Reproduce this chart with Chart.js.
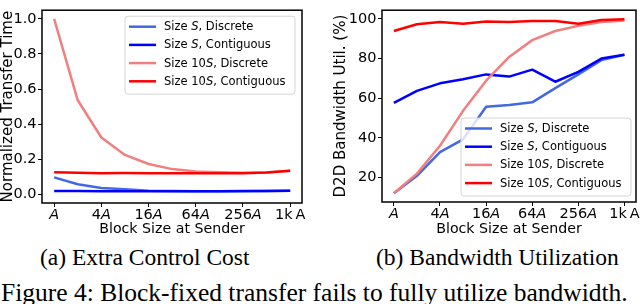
<!DOCTYPE html>
<html>
<head>
<meta charset="utf-8">
<script src="https://cdn.jsdelivr.net/npm/chart.js@4.4.1/dist/chart.umd.min.js"></script>
<style>
  body { margin: 0; background: #fff; width: 640px; height: 304px; position: relative; overflow: hidden; }
  .panel { position: absolute; top: 0; width: 320px; height: 240px; }
  #leftPanel { left: 0; }
  #rightPanel { left: 320px; }
  .cap { position: absolute; font-family: "Liberation Serif", "Times New Roman", serif; color: #000; white-space: nowrap; line-height: 1; }
</style>
</head>
<body>
<div class="panel" id="leftPanel"><canvas id="costChart"></canvas></div>
<div class="panel" id="rightPanel"><canvas id="utilChart"></canvas></div>
<div class="cap" style="left:40px; top:246px; font-size:23.5px;">(a) Extra Control Cost</div>
<div class="cap" style="left:376px; top:246px; font-size:23.5px;">(b) Bandwidth Utilization</div>
<div class="cap" style="left:1px; top:280px; font-size:25.5px;">Figure 4: Block-fixed transfer fails to fully utilize bandwidth.</div>

<script>
// block sizes, in units of A
var blockSizes = [1, 2, 4, 8, 16, 32, 64, 128, 256, 512, 1024];
var xTickValues = [1, 4, 16, 64, 256, 1024];
var xTickPrefix = ["", "4", "16", "64", "256", "1k\u2009"];
var xTickItalicA = [true, true, true, true, true, false];

var costYTicks = [0, 0.2, 0.4, 0.6, 0.8, 1.0];
var utilYTicks = [20, 40, 60, 80, 100];

// [before, italic, after]
var seriesLabels = [
  ["Size ", "S", ", Discrete"],
  ["Size ", "S", ", Contiguous"],
  ["Size 10", "S", ", Discrete"],
  ["Size 10", "S", ", Contiguous"]
];
var seriesColors = ["#4169e1", "#0000ff", "#f08080", "#ff0000"];

// (a) normalized transfer time
var costSDiscrete   = [0.097, 0.058, 0.036, 0.029, 0.021, 0.019, 0.018, 0.018, 0.018, 0.020, 0.021];
var costSContig     = [0.020, 0.019, 0.018, 0.018, 0.018, 0.018, 0.018, 0.018, 0.019, 0.020, 0.021];
var cost10SDiscrete = [1.000, 0.536, 0.324, 0.225, 0.173, 0.144, 0.131, 0.126, 0.123, 0.125, 0.135];
var cost10SContig   = [0.126, 0.123, 0.121, 0.122, 0.121, 0.121, 0.121, 0.121, 0.121, 0.125, 0.135];

// (b) D2D bandwidth utilization (%)
var utilSDiscrete   = [12.0, 20.8, 32.8, 39.2, 55.7, 56.6, 57.9, 65.1, 72.0, 79.2, 81.9];
var utilSContig     = [57.6, 63.7, 67.5, 69.6, 72.0, 70.9, 74.4, 68.3, 73.3, 80.0, 81.9];
var util10SDiscrete = [12.0, 21.9, 36.0, 53.6, 68.8, 80.8, 89.3, 93.9, 96.5, 98.4, 99.2];
var util10SContig   = [93.9, 97.3, 98.4, 97.6, 98.7, 98.4, 98.9, 99.0, 97.6, 99.5, 99.8];

var FONT = "'DejaVu Sans', sans-serif";

function richWidth(ctx, parts, size) {
  var w = 0;
  parts.forEach(function (p) {
    ctx.font = (p[1] ? "italic " : "") + size + "px " + FONT;
    w += ctx.measureText(p[0]).width;
  });
  return w;
}

function drawRich(ctx, parts, x, y, size) {
  parts.forEach(function (p) {
    ctx.font = (p[1] ? "italic " : "") + size + "px " + FONT;
    ctx.fillText(p[0], x, y);
    x += ctx.measureText(p[0]).width;
  });
}

// frame, x tick labels with italic A, legend with italic S
var decor = {
  id: "decor",
  afterDatasetsDraw: function (chart, args, opts) {
    var ctx = chart.ctx, a = chart.chartArea;
    ctx.save();
    ctx.strokeStyle = "#000";
    ctx.lineWidth = 1.5;
    ctx.strokeRect(a.left, a.top, a.right - a.left, a.bottom - a.top);

    var xs = chart.scales.x;
    ctx.fillStyle = "#000";
    ctx.textAlign = "left";
    ctx.textBaseline = "alphabetic";
    xTickValues.forEach(function (v, i) {
      var parts = [[xTickPrefix[i], false], ["A", xTickItalicA[i]]];
      var w = richWidth(ctx, parts, 14.5);
      drawRich(ctx, parts, xs.getPixelForValue(v) - w / 2, a.bottom + 15.5, 14.5);
    });

    var L = opts.legend;
    var bw = 170, bh = 78;
    var bx = a.right - L.right - bw;
    var by = L.top != null ? a.top + L.top : a.bottom - L.bottom - bh;
    var r = 3;
    ctx.beginPath();
    ctx.moveTo(bx + r, by);
    ctx.arcTo(bx + bw, by, bx + bw, by + bh, r);
    ctx.arcTo(bx + bw, by + bh, bx, by + bh, r);
    ctx.arcTo(bx, by + bh, bx, by, r);
    ctx.arcTo(bx, by, bx + bw, by, r);
    ctx.closePath();
    ctx.fillStyle = "rgba(255,255,255,0.8)";
    ctx.fill();
    ctx.strokeStyle = "#d4d4d4";
    ctx.lineWidth = 1;
    ctx.stroke();

    ctx.textBaseline = "middle";
    chart.data.datasets.forEach(function (ds, i) {
      var ry = by + 10.5 + i * 18.2;
      ctx.strokeStyle = ds.borderColor;
      ctx.lineWidth = 2.5;
      ctx.beginPath();
      ctx.moveTo(bx + 4, ry);
      ctx.lineTo(bx + 31, ry);
      ctx.stroke();
      ctx.fillStyle = "#000";
      var lab = seriesLabels[i];
      drawRich(ctx, [[lab[0], false], [lab[1], true], [lab[2], false]], bx + 39, ry + 0.5, 11.5);
    });
    ctx.restore();
  }
};

function makeChart(id, values, yTicks, yMin, yMax, yTitle, yTitlePad, yWidth, pad, xHeight, legend, fmt) {
  var datasets = values.map(function (vals, i) {
    return {
      label: seriesLabels[i].join(""),
      data: blockSizes.map(function (b, j) { return { x: b, y: vals[j] }; }),
      borderColor: seriesColors[i],
      backgroundColor: seriesColors[i],
      borderWidth: 2.5,
      pointRadius: 0,
      tension: 0,
      borderJoinStyle: "round",
      order: values.length - 1 - i
    };
  });
  return new Chart(document.getElementById(id).getContext("2d"), {
    type: "line",
    data: { datasets: datasets },
    plugins: [decor],
    options: {
      responsive: true,
      maintainAspectRatio: false,
      animation: false,
      devicePixelRatio: 1,
      layout: { padding: pad },
      scales: {
        x: {
          type: "logarithmic",
          min: Math.pow(2, -0.5),
          max: Math.pow(2, 10.5),
          afterBuildTicks: function (s) { s.ticks = xTickValues.map(function (v) { return { value: v }; }); },
          afterFit: function (s) { s.height = xHeight; },
          ticks: { callback: function () { return ""; } },
          grid: { drawOnChartArea: false, drawTicks: true, tickLength: 4, color: "#000", lineWidth: 1 },
          border: { display: false },
          title: { display: true, text: "Block Size at Sender", color: "#000", font: { family: FONT, size: 14.2 }, padding: { top: 0, bottom: 2 } }
        },
        y: {
          min: yMin,
          max: yMax,
          afterBuildTicks: function (s) { s.ticks = yTicks.map(function (v) { return { value: v }; }); },
          afterFit: function (s) { s.width = yWidth; },
          ticks: { color: "#000", padding: 1.5, font: { family: FONT, size: 14.5 }, callback: fmt },
          grid: { drawOnChartArea: false, drawTicks: true, tickLength: 4, color: "#000", lineWidth: 1 },
          border: { display: false },
          title: { display: true, text: yTitle, color: "#000", font: { family: FONT, size: 15 }, padding: { top: yTitlePad, bottom: 0 } }
        }
      },
      plugins: {
        legend: { display: false },
        tooltip: { enabled: false },
        decor: { legend: legend }
      }
    }
  });
}

makeChart("costChart",
  [costSDiscrete, costSContig, cost10SDiscrete, cost10SContig],
  costYTicks, -0.049, 1.049, "Normalized Transfer Time", -1, 42,
  { left: 0, right: 18, top: 1, bottom: 0 }, 37,
  { right: 7, top: 6 },
  function (v) { return v.toFixed(1); });

makeChart("utilChart",
  [utilSDiscrete, utilSContig, util10SDiscrete, util10SContig],
  utilYTicks, 7.6, 104.4, "D2D Bandwidth Util. (%)", 12.5, 62,
  { left: 0, right: 4, top: 1, bottom: 0 }, 38,
  { right: 5, bottom: 6 },
  function (v) { return String(v); });
</script>
</body>
</html>
